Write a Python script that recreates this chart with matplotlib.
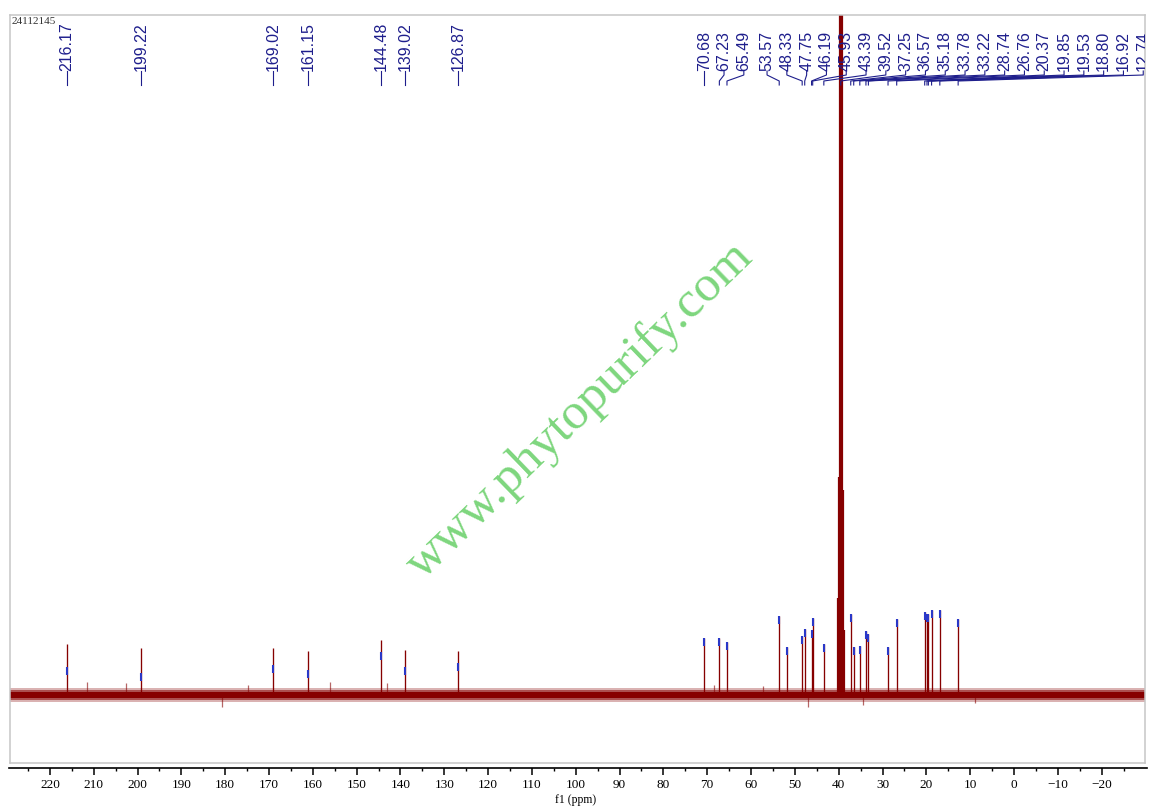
import matplotlib
matplotlib.use('Agg')
import numpy as np
import matplotlib.pyplot as plt
import matplotlib.transforms as mtransforms

W, H = 1159, 810

# picked peaks, downfield region (ppm, height above baseline, marker top)
low_ppm = [216.17, 199.22, 169.02, 161.15, 144.48, 139.02, 126.87]
low_height = [51, 47, 47, 44, 55, 45, 44]
low_marker = [28, 22, 30, 25, 43, 28, 32]

# picked peaks, aliphatic region
ali_ppm = [70.68, 67.23, 65.49, 53.57, 48.33, 47.75, 46.19, 45.93, 43.39,
           37.25, 36.57, 35.18, 33.78, 33.22, 28.74, 26.76, 20.37, 19.85,
           19.53, 18.80, 16.92, 12.74]
ali_height = [57, 57, 53, 79, 59, 66, 65, 77, 51,
              81, 48, 49, 64, 61, 48, 76, 83, 81,
              81, 85, 85, 76]

# picked but not labelled
extra_ppm = [51.90]
extra_height = [48]

# DMSO-d6 septet
solvent_ppm = [40.15, 39.94, 39.73, 39.52, 39.31, 39.10, 38.89]
solvent_height = [97, 218, 1500, 1500, 1500, 205, 65]
solvent_label = 39.52

# small noise spikes
minor_ppm = [211.6, 202.6, 180.8, 174.7, 156.1, 143.1, 68.4, 57.2, 46.9, 34.4, 8.9]
minor_height = [13, 12, -12, 10, 13, 12, 10, 9, -12, -10, -8]

major_ticks = np.arange(220, -21, -10)
minor_ticks = np.arange(225, -30, -5)

# layout (pixels of the reference)
ax_l, ax_r, ax_t, ax_b = 10, 1145, 15, 763
ppm_left, ppm_right = 229.1, -29.9
base_px = 695
px_per_ppm = (ax_r - ax_l) / (ppm_left - ppm_right)

red = '#860000'
navy = '#1e1e8c'
blue = '#2a38c8'

fig = plt.figure(figsize=(W / 100, H / 100), dpi=100)
ax = fig.add_axes([ax_l / W, (H - ax_b) / H, (ax_r - ax_l) / W, (ax_b - ax_t) / H])
ax.set_xlim(ppm_left, ppm_right)
ax.set_ylim(-(ax_b - base_px), base_px - ax_t)
ax.set_xticks([])
ax.set_yticks([])
for s in ax.spines.values():
    s.set_color('#c6c6c6')
    s.set_linewidth(1.1)

def fy(y_px):
    return (ax_b - y_px) / (ax_b - ax_t)

trans = mtransforms.blended_transform_factory(ax.transData, ax.transAxes)

# baseline noise band
ax.fill_between([ppm_left, ppm_right], -7, 7, color=red, alpha=0.3, lw=0)
ax.fill_between([ppm_left, ppm_right], -5, 5, color=red, alpha=0.55, lw=0)
ax.fill_between([ppm_left, ppm_right], -3, 3, color=red, lw=0)

# peaks
ax.vlines(minor_ppm, 0, minor_height, color=red, lw=0.9, alpha=0.6)
ax.vlines(low_ppm + ali_ppm + extra_ppm, 0, low_height + ali_height + extra_height,
          color=red, lw=0.95)
ax.vlines(solvent_ppm, 0, solvent_height, color=red, lw=1.6)

# peak-pick markers
mk_len = 8
ax.vlines(low_ppm, np.array(low_marker) - mk_len, low_marker, color=blue, lw=1.5, zorder=4)
tops = np.array(ali_height + extra_height)
ax.vlines(ali_ppm + extra_ppm, tops - mk_len, tops, color=blue, lw=1.5, zorder=4)

# peak labels, spread so they do not overlap
labels = sorted(low_ppm + ali_ppm + [solvent_label], reverse=True)
gap = 19.8 / px_per_ppm
right_lim = -29.5
pos = list(labels)
for i in range(1, len(pos)):
    pos[i] = min(labels[i], pos[i - 1] - gap)
pos[-1] = max(pos[-1], right_lim)
for i in range(len(pos) - 2, -1, -1):
    pos[i] = max(pos[i], pos[i + 1] + gap)

for p, xl in zip(labels, pos):
    ax.text(xl, fy(71), f'{p:.2f}', rotation=90, ha='center', va='bottom',
            fontsize=11.5, color=navy, family='Liberation Sans',
            transform=trans, clip_on=True)
    ax.plot([xl, xl, p, p], [fy(71), fy(75), fy(81), fy(85)], color=navy,
            lw=0.8, transform=trans, clip_on=True)

ax.text(0.001, fy(17), '24112145', ha='left', va='top', fontsize=8,
        family='Liberation Serif', color='#333333', transform=ax.transAxes)

# separate ppm axis below the frame
ax2 = fig.add_axes([(ax_l - 1) / W, (H - 768) / H, (ax_r - ax_l + 3) / W, 0.0001])
ax2.set_xlim(ppm_left + 1 / px_per_ppm, ppm_right - 2 / px_per_ppm)
ax2.patch.set_visible(False)
for side in ['left', 'right', 'top']:
    ax2.spines[side].set_visible(False)
ax2.spines['bottom'].set_linewidth(1.2)
ax2.set_yticks([])
ax2.set_xticks(major_ticks)
ax2.set_xticks(minor_ticks, minor=True)
ax2.set_xticklabels([str(t).replace('-', '\u2212') for t in major_ticks],
                    family='Liberation Serif', fontsize=9.5)
ax2.tick_params(axis='x', which='major', direction='out', length=5, width=1.1, pad=3)
ax2.tick_params(axis='x', which='minor', direction='out', length=2.5, width=1.0)
ax2.set_ylim(0, 1)

fig.text(576 / W, 1 - 800 / H, 'f1 (ppm)', ha='center', va='center',
         fontsize=8.5, family='Liberation Serif')

# watermark
fig.text(580 / W, 1 - 411 / H, 'www.phytopurify.com', rotation=44,
         ha='center', va='center', fontsize=37, family='Liberation Serif',
         color='#7dd67d')

fig.savefig('out.png', dpi=100)
